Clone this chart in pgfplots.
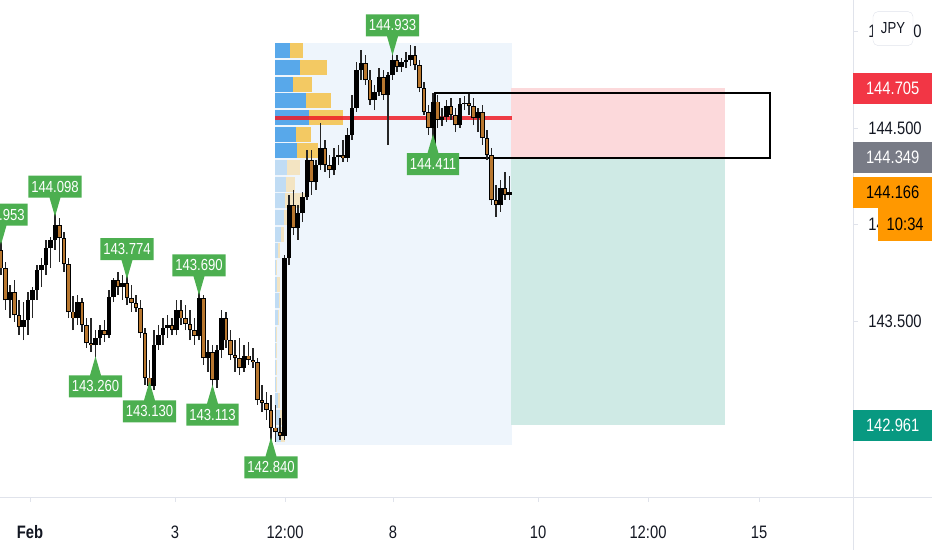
\documentclass[border=0pt]{standalone}
\usepackage{pgfplots}
\pgfplotsset{compat=1.18}
\usepackage{pgfplotstable}
\usepackage{fontspec}
\setmainfont{Liberation Sans}[FakeStretch=0.82]
\usetikzlibrary{shapes.callouts}

\definecolor{tvtext}{HTML}{131722}
\definecolor{linegray}{HTML}{E0E3EB}
\definecolor{tvred}{HTML}{F23645}
\definecolor{tvgray}{HTML}{787B86}
\definecolor{tvorange}{HTML}{FF9800}
\definecolor{tvteal}{HTML}{089981}
\definecolor{tvgreen}{HTML}{4CAF50}
\definecolor{bgblue}{HTML}{EEF5FC}
\definecolor{zonered}{HTML}{FCD9DB}
\definecolor{zonegreen}{HTML}{CFEAE5}
\definecolor{vpblue}{HTML}{58A8EA}
\definecolor{vpyellow}{HTML}{F3C963}
\definecolor{vpbluelt}{HTML}{C0DCF4}
\definecolor{vpyellowlt}{HTML}{F3E4C2}
\definecolor{pocred}{HTML}{EE1C25}
\definecolor{candleor}{HTML}{B8772F}

\newcommand\axfont{\fontsize{18}{20}\selectfont}
\newcommand\lblfont{\fontsize{16}{18}\selectfont}

\tikzset{
  lbl/.style={rectangle callout, fill=tvgreen, text=white, font=\lblfont,
    inner xsep=3pt, inner ysep=0pt, minimum height=22pt,
    callout pointer width=11pt, anchor=center},
  hilbl/.style={lbl, yshift=19pt, callout relative pointer={(0pt,-19pt)}},
  lolbl/.style={lbl, yshift=-19pt, callout relative pointer={(0pt,19pt)}},
}

% candles: x (pixel column), open, high, low, close
\pgfplotstableread{
x o h l c
1 143.868 143.953 143.738 143.774
5.5 143.774 143.806 143.557 143.609
10 143.609 143.686 143.515 143.650
14.5 143.650 143.712 143.495 143.531
19 143.531 143.609 143.427 143.469
23.5 143.469 143.598 143.401 143.505
28 143.505 143.650 143.427 143.609
32.5 143.609 143.676 143.515 143.661
37 143.661 143.790 143.609 143.764
41.5 143.764 143.826 143.676 143.790
46 143.790 143.920 143.738 143.878
50.5 143.878 143.935 143.774 143.920
55 143.920 144.098 143.868 143.997
59.5 143.997 144.034 143.806 143.930
64 143.930 143.961 143.754 143.795
68.5 143.795 143.826 143.515 143.547
73 143.547 143.629 143.453 143.515
77.5 143.515 143.635 143.479 143.598
82 143.598 143.619 143.443 143.479
86.5 143.479 143.515 143.360 143.386
91 143.386 143.515 143.339 143.376
95.5 143.376 143.453 143.260 143.412
100 143.412 143.479 143.376 143.453
104.5 143.453 143.505 143.391 143.427
109 143.427 143.661 143.412 143.624
113.5 143.624 143.723 143.598 143.712
118 143.712 143.754 143.635 143.676
122.5 143.676 143.738 143.609 143.697
127 143.697 143.774 143.583 143.619
131.5 143.619 143.686 143.547 143.593
136 143.593 143.635 143.547 143.567
140.5 143.567 143.609 143.412 143.438
145 143.438 143.464 143.168 143.205
149.5 143.205 143.298 143.130 143.163
154 143.163 143.453 143.142 143.376
158.5 143.376 143.479 143.350 143.427
163 143.427 143.515 143.376 143.464
167.5 143.464 143.531 143.412 143.479
172 143.479 143.515 143.427 143.453
176.5 143.453 143.609 143.427 143.557
181 143.557 143.609 143.479 143.515
185.5 143.515 143.583 143.453 143.484
190 143.484 143.557 143.401 143.453
194.5 143.453 143.515 143.376 143.422
199 143.422 143.690 143.401 143.619
203.5 143.619 143.635 143.272 143.308
208 143.308 143.401 143.236 143.339
212.5 143.339 143.376 143.113 143.194
217 143.194 143.376 143.153 143.350
221.5 143.350 143.557 143.308 143.515
226 143.515 143.547 143.360 143.401
230.5 143.401 143.453 143.298 143.324
235 143.324 143.401 143.236 143.308
239.5 143.308 143.412 143.220 143.256
244 143.256 143.376 143.236 143.319
248.5 143.319 143.391 143.272 143.298
253 143.298 143.360 143.256 143.287
257.5 143.287 143.308 143.065 143.091
262 143.091 143.168 143.028 143.075
266.5 143.075 143.132 142.987 143.039
271 143.039 143.117 142.840 142.946
275.5 142.946 143.065 142.873 142.925
280 142.925 142.997 142.883 142.904
284.5 142.904 143.842 142.883 143.826
289 143.826 144.153 143.790 144.101
293.5 144.101 144.179 143.945 143.982
298 143.982 144.101 143.920 144.059
302.5 144.059 144.168 144.013 144.142
307 144.142 144.386 144.127 144.334
311.5 144.334 144.386 144.153 144.220
316 144.220 144.334 144.179 144.308
320.5 144.308 144.526 144.282 144.396
325 144.396 144.438 144.272 144.308
329.5 144.308 144.360 144.241 144.282
334 144.282 144.396 144.256 144.350
338.5 144.350 144.412 144.308 144.360
343 144.360 144.438 144.324 144.344
347.5 144.344 144.500 144.324 144.464
352 144.464 144.671 144.438 144.603
356.5 144.603 144.842 144.583 144.800
361 144.800 144.904 144.749 144.837
365.5 144.837 144.878 144.723 144.749
370 144.749 144.800 144.619 144.645
374.5 144.645 144.723 144.593 144.686
379 144.686 144.811 144.666 144.764
383.5 144.764 144.800 144.645 144.671
388 144.671 144.790 144.412 144.774
392.5 144.774 144.933 144.749 144.852
397 144.852 144.878 144.790 144.816
401.5 144.816 144.863 144.790 144.842
406 144.842 144.894 144.811 144.852
410.5 144.852 144.930 144.821 144.878
415 144.878 144.925 144.800 144.826
419.5 144.826 144.852 144.686 144.707
424 144.707 144.738 144.567 144.583
428.5 144.583 144.619 144.464 144.500
433 144.500 144.681 144.411 144.635
437.5 144.635 144.671 144.500 144.541
442 144.541 144.603 144.510 144.557
446.5 144.557 144.645 144.531 144.614
451 144.614 144.655 144.541 144.567
455.5 144.567 144.603 144.479 144.515
460 144.515 144.655 144.500 144.624
464.5 144.624 144.666 144.593 144.629
469 144.629 144.676 144.567 144.614
473.5 144.614 144.655 144.515 144.552
478 144.552 144.603 144.479 144.583
482.5 144.583 144.619 144.412 144.448
487 144.448 144.489 144.334 144.360
491.5 144.360 144.396 144.101 144.127
496 144.127 144.205 144.039 144.101
500.5 144.101 144.230 144.065 144.189
505 144.189 144.272 144.127 144.153
509.5 144.153 144.251 144.127 144.166
}\candles

% volume profile rows: price centre, blue length, yellow length (pixels)
\pgfplotstableread{
p b yl
144.901 15 13
144.813 25 27
144.725 18 19
144.642 31 25
144.554 34 34
144.466 21 15
144.383 22 21
}\vpstrong

\pgfplotstableread{
p b yl
144.295 12 13
144.207 11 9
144.124 10 20
144.036 9 6
143.948 6 3
143.865 3 2
143.777 1 1
143.689 2 3
143.606 4 1
143.518 3 1
143.430 1 1
143.347 1 1
143.259 1 1
143.171 1 1
143.088 3 2
143.000 5 3
142.912 6 4
}\vpweak

\pgfplotstableread{
x y lab
1 143.953 143.953
55 144.098 144.098
127 143.774 143.774
199 143.690 143.690
392.5 144.933 144.933
}\highs

\pgfplotstableread{
x y lab
95.5 143.260 143.260
149.5 143.130 143.130
212.5 143.113 143.113
271 142.840 142.840
433 144.411 144.411
}\lows

\begin{document}
\begin{tikzpicture}
\begin{axis}[
  at={(0pt,0pt)}, anchor=south west,
  scale only axis, width=853pt, height=497pt,
  xmin=0, xmax=853, ymin=142.588, ymax=145.163,
  axis line style={draw=none},
  tick align=outside, major tick length=5pt,
  tick style={color=linegray, line width=0.8pt},
  xtick pos=bottom, ytick pos=right, yticklabel pos=right,
  xtick={30,175,285,393,538,648,759},
  xticklabels={\textbf{Feb},3,12:00,8,10,12:00,15},
  xticklabel style={anchor=center, yshift=-30pt, font=\axfont, text=tvtext},
  ytick={143.5,144,144.5,145},
  yticklabels={143.500,144.000,144.500,145.000},
  yticklabel style={anchor=center, xshift=37pt, font=\axfont, text=tvtext},
]
% range shading
\addplot[fill=bgblue, draw=none] coordinates {(275,142.858) (512,142.858) (512,144.940) (275,144.940)} -- cycle;
% position zones
\addplot[fill=zonered, draw=none] coordinates {(511,144.349) (725,144.349) (725,144.705) (511,144.705)} -- cycle;
\addplot[fill=zonegreen, draw=none] coordinates {(511,142.961) (725,142.961) (725,144.349) (511,144.349)} -- cycle;
\addplot[tvgray, line width=1pt] coordinates {(511,144.349) (725,144.349)};
% volume profile
\addplot[mark=none, draw=vpblue, line width=15pt, quiver={u=\thisrow{b}, v=0}]
  table[x expr=275, y=p] {\vpstrong};
\addplot[mark=none, draw=vpyellow, line width=15pt, quiver={u=\thisrow{yl}, v=0}]
  table[x expr=275+\thisrow{b}, y=p] {\vpstrong};
\addplot[mark=none, draw=vpbluelt, line width=15pt, quiver={u=\thisrow{b}, v=0}]
  table[x expr=275, y=p] {\vpweak};
\addplot[mark=none, draw=vpyellowlt, line width=15pt, quiver={u=\thisrow{yl}, v=0}]
  table[x expr=275+\thisrow{b}, y=p] {\vpweak};
% point of control
\addplot[pocred, line width=3.5pt, opacity=0.85] coordinates {(275,144.552) (512,144.552)};
% rectangle
\addplot[black, line width=1.3pt] coordinates {(435,144.681) (770,144.681) (770,144.344) (435,144.344)} -- cycle;
% candles: wicks, bodies, bearish fill
\addplot[mark=none, draw=black!85, line width=1.2pt, quiver={u=0, v=\thisrow{h}-\thisrow{l}}]
  table[x=x, y=l] {\candles};
\addplot[mark=none, draw=black, line width=4.2pt, quiver={u=0, v={abs(\thisrow{c}-\thisrow{o})+0.004}}]
  table[x=x, y expr={min(\thisrow{o},\thisrow{c})-0.002}] {\candles};
\addplot[mark=none, draw=candleor, line width=2.2pt, quiver={u=0, v={max(\thisrow{o}-\thisrow{c}-0.006,0)}}]
  table[x=x, y expr=\thisrow{c}+0.003] {\candles};
% pivot labels
\addplot[only marks, mark=none, point meta=explicit symbolic, nodes near coords,
  nodes near coords style={hilbl}] table[x=x, y=y, meta=lab] {\highs};
\addplot[only marks, mark=none, point meta=explicit symbolic, nodes near coords,
  nodes near coords style={lolbl}] table[x=x, y=y, meta=lab] {\lows};
\coordinate (tagR) at (axis cs:853,144.705);
\coordinate (tagE) at (axis cs:853,144.349);
\coordinate (tagC) at (axis cs:853,144.166);
\coordinate (tagT) at (axis cs:853,143.999);
\coordinate (tagG) at (axis cs:853,142.961);
\coordinate (tagJ) at (axis cs:853,145.015);
\end{axis}
\draw[linegray, line width=1pt] (853pt,-53pt) -- (853pt,497pt);
\draw[linegray, line width=1pt] (0pt,0pt) -- (932pt,0pt);
\tikzset{tag/.style={anchor=west, minimum width=79pt, minimum height=31pt, inner sep=0pt, font=\axfont}}
\node[tag, fill=tvred, text=white] at (tagR) {144.705};
\node[tag, fill=tvgray, text=white] at (tagE) {144.349};
\node[tag, fill=tvorange, text=black] at (tagC) {144.166};
\node[anchor=west, xshift=25pt, minimum width=54pt, minimum height=33pt, inner sep=0pt, font=\axfont, fill=tvorange, text=black] at (tagT) {10:34};
\node[tag, fill=tvteal, text=white] at (tagG) {142.961};
\node[anchor=center, xshift=40pt, minimum width=40pt, minimum height=34pt, inner sep=0pt, draw=linegray, fill=white, rounded corners=5pt, font=\lblfont, text=tvtext] at (tagJ) {JPY};
\pgfresetboundingbox
\path[use as bounding box] (0pt,-53pt) rectangle (932pt,497pt);
\end{tikzpicture}
\end{document}
